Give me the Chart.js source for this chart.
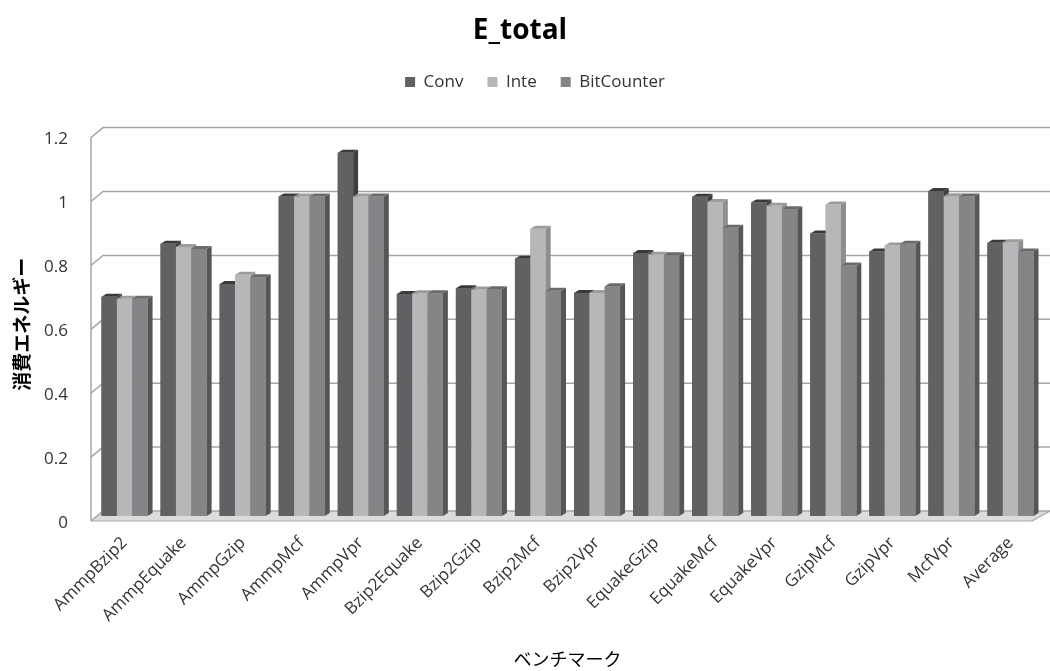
<!DOCTYPE html>
<html><head><meta charset="utf-8">
<script src="https://cdn.jsdelivr.net/npm/chart.js@4/dist/chart.umd.min.js"></script>
<style>html,body{margin:0;padding:0;background:#fff}#wrap{width:1050px;height:671px}</style>
</head><body><div id="wrap"><canvas id="c" width="1050" height="671"></canvas></div>
<script>
const categories = ['AmmpBzip2','AmmpEquake','AmmpGzip','AmmpMcf','AmmpVpr','Bzip2Equake','Bzip2Gzip','Bzip2Mcf','Bzip2Vpr','EquakeGzip','EquakeMcf','EquakeVpr','GzipMcf','GzipVpr','McfVpr','Average'];
const seriesNames = ['Conv','Inte','BitCounter'];
const convValues = [0.686,0.852,0.726,1.000,1.137,0.695,0.713,0.805,0.698,0.823,0.999,0.981,0.884,0.828,1.017,0.855];
const inteValues = [0.680,0.842,0.755,1.000,1.000,0.697,0.709,0.899,0.698,0.818,0.983,0.971,0.975,0.847,1.001,0.857];
const bitCounterValues = [0.680,0.836,0.747,1.000,1.000,0.697,0.710,0.705,0.719,0.816,0.902,0.960,0.784,0.852,1.000,0.828];
const yTicks = [0,0.2,0.4,0.6,0.8,1.0,1.2];

const frontColors = ['#616063','#b7b6b9','#858487'];
const topColors = ['#3a3a3c','#9c9b9e','#6a696c'];
const sideColors = ['#3f3f41','#8e8d90','#565558'];
const DX = 5, DY = 3;

function poly(ctx, pts){ctx.beginPath();ctx.moveTo(pts[0][0],pts[0][1]);for(let k=1;k<pts.length;k++)ctx.lineTo(pts[k][0],pts[k][1]);ctx.closePath();ctx.fill();}

const wallPlugin = {
  id:'walls',
  beforeInit(chart){
    const orig = chart.legend.fit;
    chart.legend.fit = function(){ orig.call(this); this.height += 32; };
  },
  afterLayout(chart){
    chart.legend.left += 15; chart.legend.right += 15;
  },
  beforeDatasetsDraw(chart){
    const {ctx, chartArea:{left,right}, scales:{y}} = chart;
    const y0 = y.getPixelForValue(0);
    const fl = left-4, bl = left+8;
    ctx.save();
    ctx.fillStyle = '#dcdcdc';
    poly(ctx, [[fl,y0+5],[right-8,y0+5],[right+10,y0-5],[bl,y0-5]]);
    ctx.strokeStyle = '#a8a8a8'; ctx.lineWidth = 1.2;
    ctx.beginPath(); ctx.moveTo(fl,y0+5); ctx.lineTo(right-8,y0+5); ctx.lineTo(right+10,y0-5); ctx.stroke();
    ctx.strokeStyle = '#a6a6a6'; ctx.lineWidth = 1.5;
    yTicks.forEach(v=>{
      const py = y.getPixelForValue(v);
      ctx.beginPath(); ctx.moveTo(fl, py+5); ctx.lineTo(bl, py-5); ctx.lineTo(1050, py-5); ctx.stroke();
    });
    ctx.beginPath(); ctx.moveTo(fl, y.getPixelForValue(1.2)+5); ctx.lineTo(fl, y0+5); ctx.stroke();
    ctx.restore();
  },
  afterDatasetsDraw(chart){
    const ctx = chart.ctx;
    ctx.save();
    const n = chart.data.datasets.length;
    for (let j=0;j<categories.length;j++){
      for (let i=0;i<n;i++){
        const el = chart.getDatasetMeta(i).data[j];
        const p = el.getProps(['x','y','base','width'], true);
        const l = p.x - p.width/2, r = p.x + p.width/2, t = p.y, b = p.base;
        ctx.fillStyle = sideColors[i];
        poly(ctx, [[r,t],[r+DX,t-DY],[r+DX,b-DY],[r,b]]);
        ctx.fillStyle = topColors[i];
        poly(ctx, [[l,t],[r,t],[r+DX,t-DY],[l+DX,t-DY]]);
        ctx.fillStyle = frontColors[i];
        ctx.fillRect(l, t, r-l, b-t);
      }
    }
    ctx.restore();
  }
};

const LATIN = '"Open Sans","Noto Sans","Noto Sans CJK JP",sans-serif';
const JP = '"Noto Sans CJK JP","Noto Sans",sans-serif';

new Chart(document.getElementById('c'), {
  type:'bar',
  data:{
    labels: categories,
    datasets:[
      {label:seriesNames[0], data:convValues, backgroundColor:frontColors[0]},
      {label:seriesNames[1], data:inteValues, backgroundColor:frontColors[1]},
      {label:seriesNames[2], data:bitCounterValues, backgroundColor:frontColors[2]}
    ]
  },
  options:{
    responsive:false,
    animation:false,
    layout:{padding:{left:0,right:10,top:0,bottom:0}},
    datasets:{bar:{categoryPercentage:0.78,barPercentage:1.0,borderWidth:0}},
    plugins:{
      title:{display:true,text:'E_total',color:'#000',font:{family:LATIN,size:28,weight:'bold'},padding:{top:14,bottom:2}},
      legend:{display:true,position:'top',labels:{boxWidth:10,boxHeight:10,padding:24,color:'#333',font:{family:LATIN,size:17}}},
      tooltip:{enabled:false}
    },
    scales:{
      x:{
        grid:{display:false,drawTicks:false},
        border:{display:false},
        ticks:{autoSkip:false,maxRotation:45,minRotation:45,padding:17,color:'#333',font:{family:LATIN,size:17}},
        title:{display:true,text:'ベンチマーク',color:'#000',font:{family:JP,size:18},padding:{top:0,bottom:1}},
        afterFit(s){ s.height = 155; }
      },
      y:{
        min:0,max:1.2,
        grid:{display:false,drawTicks:false},
        border:{display:false},
        ticks:{stepSize:0.2,padding:27,labelOffset:7,color:'#333',font:{family:LATIN,size:17},
          callback:(v)=>String(+Number(v).toFixed(1))},
        title:{display:true,text:'消費エネルギー',color:'#000',font:{family:JP,size:19,weight:'bold'},padding:{top:10,bottom:0}},
        afterFit(s){ s.width = 95; }
      }
    }
  },
  plugins:[wallPlugin]
});
</script></body></html>
